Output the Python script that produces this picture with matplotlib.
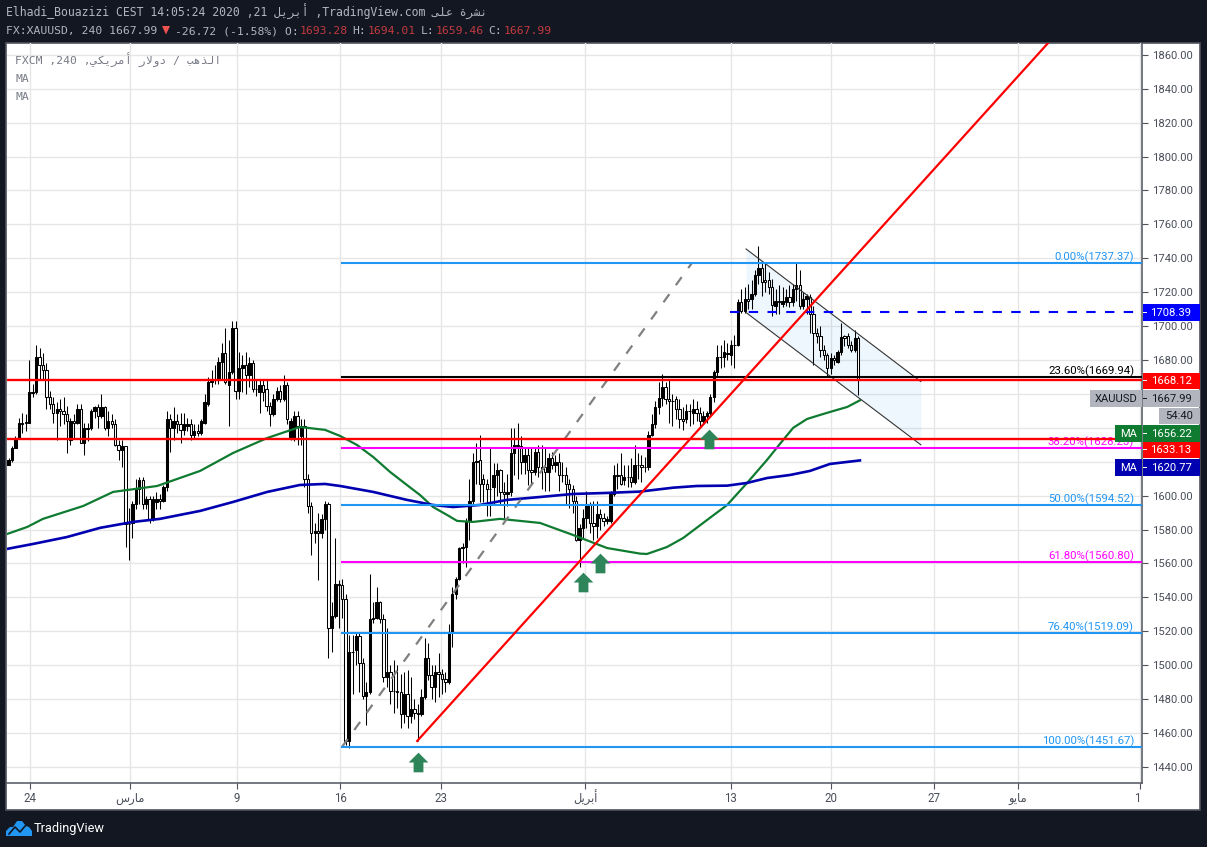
import numpy as np
import matplotlib
matplotlib.use("Agg")
import matplotlib.pyplot as plt
from matplotlib.patches import Rectangle, Polygon
from matplotlib.path import Path

plt.rcParams["font.family"] = ["Roboto", "DejaVu Sans"]

W, H = 1207, 847
MONO = ["DejaVu Sans Mono", "DejaVu Sans"]

# ---- candles (4h XAUUSD)
opens = [
    1618, 1621, 1628, 1634, 1643, 1643.5, 1643, 1661, 1661, 1682,
    1677, 1674, 1658, 1654, 1649, 1651, 1650, 1648, 1633, 1644,
    1643, 1651, 1631, 1640, 1640, 1650, 1652, 1647, 1652, 1640,
    1644, 1642, 1630, 1627, 1629, 1583, 1584, 1595, 1604, 1609,
    1595, 1598, 1586, 1596, 1598, 1597, 1605, 1645, 1640, 1644,
    1642, 1639, 1641, 1642, 1636, 1638, 1637, 1643, 1654, 1667,
    1669, 1669, 1679, 1684, 1665, 1673, 1699, 1662, 1675, 1677,
    1671, 1678, 1663, 1661, 1665, 1663, 1653, 1648, 1657, 1662,
    1657, 1665, 1634, 1634, 1647, 1635, 1641, 1610, 1594, 1578,
    1579, 1578, 1586, 1595, 1522, 1529, 1548, 1547, 1539, 1455,
    1508, 1509, 1517, 1501, 1482, 1484, 1527, 1528, 1537, 1527,
    1493, 1496, 1485, 1485, 1484, 1471, 1483, 1470, 1474, 1472,
    1471, 1481, 1504, 1494, 1487, 1496, 1495, 1492, 1490, 1519,
    1542, 1551, 1569, 1570, 1585, 1597, 1620, 1621, 1610, 1607,
    1604, 1605, 1612, 1615, 1602, 1601, 1602, 1625, 1630, 1629,
    1620, 1624, 1615, 1614, 1626, 1617, 1617, 1614, 1622, 1618,
    1620, 1612, 1612, 1607, 1604, 1597, 1574, 1581, 1587, 1595,
    1584, 1582, 1589, 1587, 1585, 1585, 1601, 1612, 1612, 1609,
    1611, 1611, 1608, 1618, 1618, 1617, 1617, 1636, 1642, 1652,
    1657.5, 1664, 1657, 1656, 1657, 1651, 1645, 1645, 1650, 1649,
    1651, 1649, 1644, 1647, 1649, 1658, 1673, 1682, 1682, 1684,
    1683, 1689, 1689, 1714, 1709, 1716, 1716, 1719, 1730, 1734,
    1727, 1727, 1723, 1712, 1715, 1713, 1714, 1717, 1714, 1722,
    1724, 1712, 1716, 1717, 1707, 1696, 1694, 1686, 1683, 1675,
    1681, 1679, 1684.5, 1694, 1694, 1689, 1686, 1693.28,
]
highs = [
    1622, 1629, 1635, 1646, 1649, 1648, 1680, 1666, 1689, 1687,
    1684, 1678, 1662, 1658, 1655, 1657, 1658, 1653, 1646, 1648,
    1654, 1654, 1643, 1643, 1651, 1653, 1654, 1660, 1653, 1650,
    1648, 1645, 1633, 1633, 1629, 1593, 1597, 1610, 1611, 1611,
    1600, 1600, 1600, 1602, 1601, 1606, 1650, 1648, 1652, 1648,
    1649, 1649, 1646, 1645, 1642, 1642, 1645, 1660, 1670, 1674,
    1677, 1682, 1690, 1699, 1692, 1703, 1703, 1685, 1683, 1685,
    1682, 1680, 1669, 1669, 1669, 1669, 1655, 1660, 1664, 1665,
    1671, 1667, 1646, 1650, 1650, 1645, 1645, 1613, 1596, 1584,
    1590, 1589, 1597, 1596, 1537, 1575, 1550, 1551, 1542, 1518,
    1518, 1519, 1519, 1504, 1490, 1554, 1537, 1546, 1538, 1530,
    1522, 1500, 1503, 1500, 1495, 1496, 1497, 1493, 1480, 1477,
    1486, 1516, 1513, 1500, 1500, 1507, 1498, 1496, 1524, 1546,
    1552, 1570, 1572, 1587, 1610, 1625, 1631, 1636, 1613, 1610,
    1628, 1619, 1619, 1616, 1608, 1613, 1640, 1640, 1643, 1635,
    1628, 1628, 1628, 1628, 1630, 1630, 1628, 1625, 1626, 1624,
    1625, 1620, 1617, 1610, 1606, 1600, 1583, 1592, 1603, 1596,
    1597, 1597, 1592, 1590, 1588, 1603, 1618, 1619, 1625, 1618,
    1618, 1622, 1630, 1625, 1624, 1623, 1638, 1648, 1656, 1667,
    1672, 1667, 1668, 1660, 1659, 1657, 1652, 1654, 1654, 1657,
    1656, 1652, 1650, 1650, 1660, 1674, 1689, 1689, 1692, 1690,
    1692, 1695, 1716, 1722, 1723, 1725, 1727, 1733, 1747, 1738,
    1738, 1732, 1728, 1722, 1724, 1723, 1722, 1724, 1725, 1738,
    1733, 1720, 1719, 1719, 1712, 1699, 1700, 1689, 1684, 1684,
    1683, 1686, 1702, 1695, 1696, 1691, 1698, 1694.01,
]
lows = [
    1618, 1620, 1628, 1634, 1637, 1638, 1643, 1658, 1660, 1669,
    1668, 1651, 1651, 1643, 1633, 1641, 1642, 1625, 1630, 1634,
    1642, 1631, 1624, 1632, 1639, 1646, 1640, 1646, 1639, 1635,
    1640, 1629, 1621, 1617, 1570, 1562, 1575, 1592, 1595, 1592,
    1592, 1584, 1585, 1592, 1592, 1596, 1603, 1626, 1633, 1637,
    1631, 1636, 1638, 1633, 1634, 1635, 1636, 1642, 1653, 1664,
    1666, 1666, 1668, 1666, 1641, 1672, 1657, 1657, 1661, 1660,
    1664, 1661, 1659, 1649, 1656, 1650, 1641, 1647, 1656, 1655,
    1656, 1642, 1633, 1632, 1630, 1630, 1605, 1590, 1565, 1572,
    1550, 1575, 1580, 1504, 1508, 1528, 1522, 1528, 1453, 1451,
    1483, 1500, 1484, 1480, 1465, 1483, 1525, 1527, 1525, 1490,
    1487, 1477, 1472, 1475, 1463, 1466, 1463, 1466, 1468, 1455,
    1470, 1480, 1491, 1480, 1478, 1481, 1483, 1484, 1489, 1511,
    1539, 1550, 1560, 1558, 1574, 1595, 1607, 1596, 1596, 1588,
    1588, 1595, 1600, 1595, 1587, 1594, 1600, 1612, 1610, 1613,
    1613, 1606, 1606, 1612, 1611, 1604, 1603, 1603, 1616, 1614,
    1603, 1608, 1595, 1593, 1590, 1573, 1558, 1575, 1581, 1578,
    1574, 1575, 1580, 1582, 1583, 1584, 1600, 1604, 1606, 1606,
    1605, 1605, 1607, 1610, 1608, 1614, 1615, 1635, 1640, 1648,
    1653, 1654, 1643, 1641, 1645, 1640, 1639, 1643, 1641, 1642,
    1644, 1640, 1642, 1643, 1647, 1655, 1670, 1675, 1676, 1680,
    1677, 1675, 1688, 1708, 1708, 1710, 1710, 1718, 1725, 1718,
    1720, 1719, 1706, 1707, 1707, 1711, 1712, 1711, 1712, 1715,
    1710, 1710, 1707, 1696, 1677, 1690, 1682, 1680, 1670, 1672,
    1677, 1678, 1683, 1688, 1687, 1685, 1685, 1659.46,
]
closes = [
    1621, 1628, 1634, 1643, 1642.5, 1643, 1661, 1660.5, 1682, 1677,
    1674, 1658, 1654, 1649, 1651, 1650, 1648, 1644, 1644, 1643,
    1651, 1631, 1640, 1639.5, 1650, 1652, 1647, 1652, 1640, 1644,
    1642, 1630, 1627, 1629, 1583, 1583, 1595, 1604.5, 1609, 1595,
    1598, 1586, 1598, 1598, 1597, 1605, 1645, 1640, 1644, 1642,
    1639, 1642, 1642, 1636, 1638, 1637, 1644, 1655, 1667, 1668,
    1668, 1679, 1684, 1667, 1673, 1699, 1662, 1675, 1677, 1671,
    1678, 1663, 1663, 1665, 1661, 1653, 1648, 1657, 1662, 1657,
    1665, 1645, 1644, 1647, 1641, 1641, 1610, 1594, 1578, 1579,
    1578, 1586, 1595, 1522, 1529, 1548, 1547, 1539, 1455, 1508,
    1508, 1517, 1501, 1482, 1484, 1527, 1528, 1537, 1527, 1493,
    1496, 1485, 1485, 1484, 1471, 1483, 1470, 1474, 1472, 1471,
    1481, 1504, 1494, 1487, 1496, 1495, 1492, 1490, 1519, 1542,
    1551, 1569, 1570, 1585, 1597, 1620, 1620.5, 1607, 1607, 1604,
    1604, 1612, 1615, 1602, 1601, 1602, 1625, 1630, 1629, 1620,
    1624, 1615, 1614, 1626, 1617, 1616, 1614, 1622, 1618, 1620,
    1612, 1612, 1607, 1604, 1597, 1574, 1581, 1587, 1595, 1584,
    1582, 1589, 1587, 1585, 1586, 1601, 1612, 1611.5, 1607, 1611,
    1611, 1608, 1618, 1618, 1617, 1617, 1636, 1642, 1652, 1657.5,
    1664, 1657, 1656, 1656, 1651, 1645, 1644, 1650, 1650, 1651,
    1649, 1644, 1647, 1649, 1658, 1673, 1682, 1682, 1685, 1683.5,
    1689, 1689, 1714, 1709, 1716, 1715, 1719, 1730, 1734, 1726,
    1726, 1723, 1712.5, 1715, 1714, 1715, 1717, 1714, 1722, 1724,
    1712, 1716, 1717.5, 1707, 1696, 1694, 1686, 1683, 1675, 1681,
    1680, 1684.5, 1693.5, 1693, 1689, 1686, 1693, 1667.99,
]

# ---- moving averages
ma_green_bars = [-0.4, 5.4, 10, 21.7, 30.4, 43.2, 55.7, 65.3, 75.2, 84.7, 92, 96.4,
                 101.3, 106, 110.9, 115.8, 119.6, 123.4, 127.5, 130.4, 135, 142.9,
                 154.5, 164.1, 174, 183.6, 185.6, 191.4, 196.1, 203.1, 208.9, 214.7,
                 220.5, 225.2, 228.1, 232.1, 235.9, 239.7, 243.8, 247.5]
ma_green_vals = [1577.4, 1581.5, 1586.3, 1593.9, 1602.2, 1605.7, 1614.6, 1625.2, 1634, 1640.5, 1638.8, 1635.2,
                 1629.9, 1622.8, 1614, 1606.3, 1600.4, 1593.3, 1588.6, 1585.1, 1584.5, 1586.3,
                 1583.9, 1576.8, 1569.1, 1565.8, 1565.6, 1569.7, 1575, 1585.7, 1594.5, 1607.5,
                 1621.1, 1632.9, 1640, 1645.2, 1647.6, 1649.9, 1652.3, 1656.22]
ma_blue_bars = [-0.4, 7.1, 17, 26.6, 36.2, 44, 55.7, 65.3, 75.2, 84.7, 92, 96.4,
                106, 115.8, 123.4, 129.2, 137, 144.9, 154.5, 164.1, 174, 183.6,
                193.2, 200.1, 208.9, 214.7, 220.5, 227.2, 233, 238.8, 247.5]
ma_blue_vals = [1568.6, 1571.5, 1575.6, 1581, 1584.5, 1586.3, 1591, 1596.3, 1602.2, 1606.3, 1606.9, 1605.7,
                1602.2, 1597.5, 1594.5, 1593.3, 1594.5, 1597.5, 1599.2, 1601, 1601.6, 1602.4,
                1604.7, 1605.7, 1605.9, 1607.5, 1610.4, 1612.2, 1614.6, 1618.7, 1620.77]

# ---- fibonacci levels
fib_pct = ["0.00", "23.60", "38.20", "50.00", "61.80", "76.40", "100.00"]
fib_prices = [1737.37, 1669.94, 1628.23, 1594.52, 1560.80, 1519.09, 1451.67]
fib_colors = ["#2196f3", "#000000", "#ff00ff", "#2196f3", "#ff00ff", "#2196f3", "#2196f3"]

# ---- drawings
support_prices = [1668.12, 1633.13]
entry_price = 1708.39
trend_bars = [118.8, 302.2]
trend_prices = [1455.3, 1867]
fib_trend_bars = [96.9, 198.7]
fib_trend_prices = [1451.67, 1737.37]
channel_bars = [214.4, 265.2]
channel_top = [1745.5, 1667.3]
channel_bottom = [1708, 1630]
arrow_bars = [119, 167, 172, 203.6]
arrow_prices = [1442.6, 1549, 1560.3, 1633.4]

# ---- axis labels
price_ticks = list(range(1440, 1861, 20))
hidden_price_labels = [1620, 1640, 1660]  # sit under the flags
time_tick_bars = [6.3, 35.3, 66.4, 96.4, 125.7, 167.6, 210, 239.1, 269.1, 293.5, 329]
time_tick_labels = ["24", "\ufeb1\ufead\ufe8e\ufee3", "9", "16", "23",
                    "\ufede\ufef3\ufeae\ufe91\ufe83", "13", "20", "27",
                    "\ufeee\ufef3\ufe8e\ufee3", "1"]


def fx(px):
    return px / W


def fy(py):
    return 1 - py / H


def box(fig, x0, y0, x1, y1, color, **kw):
    fig.add_artist(Rectangle((fx(x0), fy(y1)), (x1 - x0) / W, (y1 - y0) / H,
                             transform=fig.transFigure, facecolor=color,
                             edgecolor="none", **kw))


fig = plt.figure(figsize=(W / 100, H / 100), dpi=100, facecolor="#131722")

# white panel behind the price and time scales
fig.add_artist(Rectangle((fx(6), fy(810)), 1194 / W, 767 / H, transform=fig.transFigure,
                         facecolor="white", edgecolor="#50535e", linewidth=1.2, zorder=-1))

ax = fig.add_axes([fx(7), fy(783), 1135 / W, 740 / H])
ax.set_xlim(-0.45, 329.5)
ax.set_ylim(1430.5, 1867)
ax.patch.set_alpha(0)

ax.set_yticks(price_ticks)
ax.set_yticklabels(["" if p in hidden_price_labels else f"{p:.2f}" for p in price_ticks])
ax.yaxis.tick_right()
ax.set_xticks(time_tick_bars)
ax.set_xticklabels(time_tick_labels)
ax.tick_params(axis="y", length=4, width=0.8, color="#50535e", labelcolor="#4a4e5a",
               labelsize=8.15, pad=3)
ax.tick_params(axis="x", length=4, width=0.8, color="#50535e", labelcolor="#4a4e5a",
               labelsize=8.3, pad=6.8)
for label in ax.get_xticklabels():
    label.set_va("center")
ax.get_xticklabels()[-1].set_ha("right")
ax.grid(True, color="#e6e6e6", linewidth=1.0)
ax.set_axisbelow(True)
for name in ["top", "left"]:
    ax.spines[name].set_visible(False)
for name in ["bottom", "right"]:
    ax.spines[name].set_color("#50535e")
    ax.spines[name].set_linewidth(1.1)

# ---- channel
ax.fill_between(channel_bars, channel_bottom, channel_top, color="#2196f3", alpha=0.07,
                linewidth=0, zorder=1)
ax.plot(channel_bars, channel_top, color="#333333", lw=0.8, zorder=6)
ax.plot(channel_bars, channel_bottom, color="#333333", lw=0.8, zorder=6)

# ---- candles
opens = np.array(opens, dtype=float)
closes = np.array(closes, dtype=float)
bars = np.linspace(0, 247, len(opens))
body_colors = np.where(closes >= opens, "black", "white")
ax.vlines(bars, lows, highs, color="black", lw=0.75, zorder=3)
ax.bar(bars, closes - opens, bottom=opens, width=0.68, color=body_colors,
       edgecolor="black", linewidth=0.75, zorder=4)

# ---- moving averages
ax.plot(ma_green_bars, ma_green_vals, color="#0f7b30", lw=1.6, zorder=5)
ax.plot(ma_blue_bars, ma_blue_vals, color="#0000b0", lw=1.9, zorder=5)

# ---- fibonacci
for pct, price, color in zip(fib_pct, fib_prices, fib_colors):
    ax.plot([96.9, 329.5], [price, price], color=color, lw=1.5, zorder=6)
    ax.text(327.2, price - 0.2, f"{pct}%({price:.2f})", color=color, ha="right", va="bottom",
            fontsize=8.2, zorder=7)

ax.plot(fib_trend_bars, fib_trend_prices, color="#808080", lw=1.6, dashes=(4.5, 5), zorder=5)
ax.plot(trend_bars, trend_prices, color="#ff0000", lw=1.6, zorder=7)
for price in support_prices:
    ax.axhline(price, color="#ff0000", lw=1.7, zorder=7)
ax.plot([209.7, 329.5], [entry_price, entry_price], color="#0000ff", lw=1.5, dashes=(4.5, 4.5), zorder=6)

# ---- arrows
arrow = Path([(-1, 0), (0, 1), (1, 0), (0.5, 0), (0.5, -1), (-0.5, -1), (-0.5, 0), (-1, 0)], closed=True)
ax.scatter(arrow_bars, arrow_prices, marker=arrow, s=200, color="#2f855a", linewidths=0, zorder=8)

# ---- chart legend text
ax.text(0.0072, 0.9775, "FXCM ,240 ,\ufef2\ufedc\ufef3\ufeae\ufee3\ufe83 \ufead\ufefb\ufeed\ufea9 / "
        "\ufe90\ufeeb\ufeac\ufedf\ufe8d", transform=ax.transAxes, color="#787b86", fontsize=8.2,
        family=MONO, va="center", zorder=9)
ax.text(0.0072, 0.9514, "MA", transform=ax.transAxes, color="#787b86", fontsize=8.2, family=MONO,
        va="center", zorder=9)
ax.text(0.0072, 0.9270, "MA", transform=ax.transAxes, color="#787b86", fontsize=8.2, family=MONO,
        va="center", zorder=9)

# ---- flags on the price scale
flags = [
    (304, 321, "1708.39", "#0000ff", "white"),
    (373, 389, "1668.12", "#ff0000", "white"),
    (390, 407, "1667.99", "#b2b5be", "#131722"),
    (425, 442, "1656.22", "#0f7b30", "white"),
    (442, 458, "1633.13", "#ff0000", "white"),
    (459, 476, "1620.77", "#0000b0", "white"),
]
for y0, y1, label, color, tcolor in flags:
    box(fig, 1142.5, y0, 1199.5, y1, color, zorder=2)
    box(fig, 1142.5, (y0 + y1) / 2 - 0.5, 1147, (y0 + y1) / 2 + 0.5, tcolor, zorder=3)
    fig.text(fx(1171), fy((y0 + y1) / 2), label, color=tcolor, fontsize=8.15, ha="center",
             va="center", zorder=3)

box(fig, 1159, 408, 1199.5, 424, "#b2b5be", zorder=2)
fig.text(fx(1179), fy(416), "54:40", color="#131722", fontsize=8.15, ha="center", va="center", zorder=3)
box(fig, 1090, 390, 1141.5, 407, "#b2b5be", zorder=2)
fig.text(fx(1116), fy(398.5), "XAUUSD", color="#131722", fontsize=8, ha="center", va="center", zorder=3)
box(fig, 1115, 425, 1141.5, 442, "#0f7b30", zorder=2)
fig.text(fx(1128.5), fy(433.5), "MA", color="white", fontsize=8, ha="center", va="center", zorder=3)
box(fig, 1115, 459, 1141.5, 476, "#0000b0", zorder=2)
fig.text(fx(1128.5), fy(467.5), "MA", color="white", fontsize=8, ha="center", va="center", zorder=3)

# ---- header
HEAD = "#b2b5be"
RED = "#c23a3f"
fig.text(fx(6), fy(12), "Elhadi_Bouazizi CEST 14:05:24 2020 ,21 \ufede\ufef3\ufeae\ufe91\ufe83 ,TradingView.com "
         "\ufef0\ufee0\ufecb \ufe93\ufeae\ufeb8\ufee7", color=HEAD, fontsize=8.3, family=MONO, va="center")
header_parts = [
    (6, "FX:XAUUSD, 240 1667.99", HEAD),
    (175, "-26.72 (-1.58%) O:", HEAD),
    (300, "1693.28", RED),
    (352, "H:", HEAD),
    (367.5, "1694.01", RED),
    (421, "L:", HEAD),
    (436, "1659.46", RED),
    (488, "C:", HEAD),
    (504, "1667.99", RED),
]
for px, label, color in header_parts:
    fig.text(fx(px), fy(31), label, color=color, fontsize=8.2, family=MONO, va="center")
fig.add_artist(Polygon([(fx(162), fy(26)), (fx(170), fy(26)), (fx(166), fy(34.5))],
                       closed=True, transform=fig.transFigure, facecolor="#ef5350", edgecolor="none"))

# ---- logo
cloud = [(6, 836), (6, 831), (10, 827), (13, 827), (17, 821), (22, 821), (26, 826), (29, 827),
         (32, 831), (32, 836)]
fig.add_artist(Polygon([(fx(x), fy(y)) for x, y in cloud], closed=True, transform=fig.transFigure,
                       facecolor="#2196f3", edgecolor="none"))
fig.add_artist(plt.Line2D([fx(9), fx(15), fx(20), fx(26)], [fy(834), fy(827), fy(832), fy(825)],
                          transform=fig.transFigure, color="#131722", lw=1.2))
fig.text(fx(34), fy(828.5), "TradingView", color="white", fontsize=9.2, va="center")

fig.savefig("out.png", dpi=100, facecolor=fig.get_facecolor())
plt.close(fig)
